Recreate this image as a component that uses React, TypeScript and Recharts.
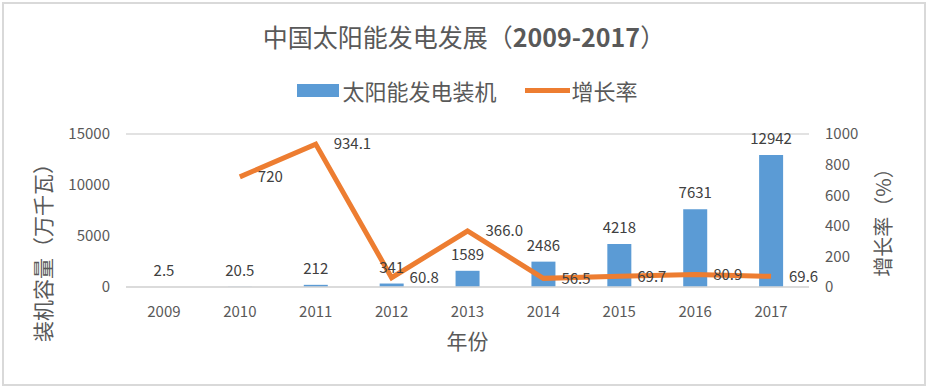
import React from 'react';
import { ComposedChart, Bar, Line, XAxis, YAxis, CartesianGrid, Legend, LabelList, Label } from 'recharts';

const years = ['2009', '2010', '2011', '2012', '2013', '2014', '2015', '2016', '2017'];
const capacity = [2.5, 20.5, 212, 341, 1589, 2486, 4218, 7631, 12942];
const growth = [null, 720, 934.1, 60.8, 366.0, 56.5, 69.7, 80.9, 69.6];
const growthLabels = ['', '720', '934.1', '60.8', '366.0', '56.5', '69.7', '80.9', '69.6'];
const leftTicks = [0, 5000, 10000, 15000];
const rightTicks = [0, 200, 400, 600, 800, 1000];

const data = years.map((y, i) => ({
  year: y,
  capacity: capacity[i],
  growth: growth[i],
  growthLabel: growthLabels[i],
}));

const FONT = '"Noto Sans CJK SC", "Noto Sans", sans-serif';
const BLUE = '#5B9BD5';
const ORANGE = '#ED7D31';
const TEXT = '#595959';

const LegendBox = () => (
  <div style={{ display: 'flex', justifyContent: 'center', alignItems: 'center', height: 24, fontFamily: FONT, fontSize: 22, color: TEXT }}>
    <span style={{ display: 'inline-block', width: 42, height: 13, background: BLUE, marginRight: 3 }} />
    <span>太阳能发电装机</span>
    <span style={{ display: 'inline-block', width: 45, height: 5, background: ORANGE, marginLeft: 28, marginRight: 2 }} />
    <span>增长率</span>
  </div>
);

const LeftTitle = (props: any) => {
  const { x, y, height } = props.viewBox;
  const cx = x - 24;
  const cy = y + height / 2 + 37;
  return (
    <text x={cx} y={cy} transform={`rotate(-90 ${cx} ${cy})`} textAnchor="middle" dominantBaseline="central"
      fontFamily={FONT} fontSize={21} fill={TEXT}>装机容量（万千瓦）</text>
  );
};

const RightTitle = (props: any) => {
  const { x, y, height } = props.viewBox;
  const cx = x + 73;
  const cy = y + height / 2 + 7;
  return (
    <text x={cx} y={cy} transform={`rotate(-90 ${cx} ${cy})`} textAnchor="middle" dominantBaseline="central"
      fontFamily={FONT} fontSize={20} fill={TEXT}>增长率（%）</text>
  );
};

const BottomTitle = (props: any) => {
  const { x, y, width } = props.viewBox;
  return (
    <text x={x + width / 2} y={y + 53} textAnchor="middle" dominantBaseline="central"
      fontFamily={FONT} fontSize={21} fill={TEXT}>年份</text>
  );
};

export default function App() {
  return (
    <div style={{ position: 'absolute', left: 0, top: 0, width: 928, height: 386, background: '#fff' }}>
      <div style={{ position: 'absolute', left: 2, top: 2, width: 920, height: 380, border: '2px solid #d9d9d9' }} />
      <div style={{ position: 'absolute', left: 0, top: 18, width: 928, textAlign: 'center', fontFamily: FONT, fontSize: 25, color: TEXT }}>
        中国太阳能发电发展（<b>2009-2017</b>）
      </div>
      <div style={{ position: 'absolute', left: 0, top: 0 }}>
        <ComposedChart width={928} height={386} data={data} margin={{ top: 110, right: 59, bottom: 69, left: 66 }}>
          <CartesianGrid vertical={false} stroke="#d9d9d9" strokeWidth={1.5} />
          <Legend verticalAlign="top" align="center" height={24} wrapperStyle={{ top: 78 }} content={() => <LegendBox />} />
          <XAxis dataKey="year" tickLine={false} axisLine={{ stroke: '#d9d9d9', strokeWidth: 1.5 }} height={30}
            tickMargin={13} tick={{ fontFamily: FONT, fontSize: 15, fill: TEXT }}>
            <Label content={BottomTitle} />
          </XAxis>
          <YAxis yAxisId="left" domain={[0, 15000]} ticks={leftTicks} width={60} axisLine={false} tickLine={false}
            tickMargin={10} tick={{ fontFamily: FONT, fontSize: 15, fill: TEXT }}>
            <Label content={LeftTitle} />
          </YAxis>
          <YAxis yAxisId="right" orientation="right" domain={[0, 1000]} ticks={rightTicks} width={60} axisLine={false}
            tickLine={false} tickMargin={10} tick={{ fontFamily: FONT, fontSize: 15, fill: TEXT }}>
            <Label content={RightTitle} />
          </YAxis>
          <Bar yAxisId="left" dataKey="capacity" fill={BLUE} barSize={24} isAnimationActive={false}>
            <LabelList dataKey="capacity" position="top" offset={11} fontFamily={FONT} fontSize={15} fill="#404040" />
          </Bar>
          <Line yAxisId="right" dataKey="growth" stroke={ORANGE} strokeWidth={5} dot={false} activeDot={false}
            isAnimationActive={false} strokeLinejoin="miter">
            <LabelList dataKey="growthLabel" position="right" offset={18} fontFamily={FONT} fontSize={15} fill="#404040" />
          </Line>
        </ComposedChart>
      </div>
    </div>
  );
}
